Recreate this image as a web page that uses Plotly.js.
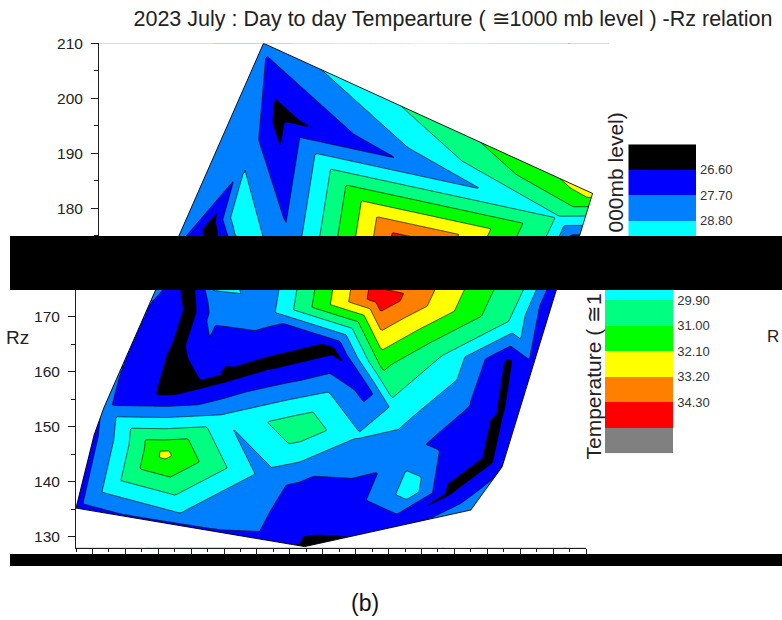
<!DOCTYPE html>
<html>
<head>
<meta charset="utf-8">
<script src="https://cdn.plot.ly/plotly-3.0.1.min.js"></script>
<style>html,body{margin:0;padding:0;background:#fff;}#chart{width:782px;height:620px;}</style>
</head>
<body>
<div id="chart"></div>
<script>
// ---------------- data (x position, Rz, temperature) ----------------
const dayX  = [11.0, 31.0, 11.9, 10.0, 28.9, 19.5, 30.05, 9.3, 7.9, 8.8,
               1.0, 2.1, 2.7, 4.2, 5.45,
               8.1, 7.3, 6.6, 8.4, 10.2, 12.8, 16.6, 8.9,
               9.3, 12.5,
               6.35, 12.5, 7.5, 11.5,
               10.0, 14.7, 16.3, 18.2,
               18.6, 19.6, 20.5, 20.7, 21.4,
               23.5, 27.6, 23.5, 24.8, 23.6, 26.2, 26.8, 27.3, 28.65, 27.55, 26.9, 25.0,
               17.5, 14.5, 20.0, 14.9];
const rzY   = [210.0, 182.7, 196.9, 189.8, 178.4, 173.5, 173.5, 178.5, 177.5, 174.0,
               135.2, 148.5, 153.5, 163.0, 172.0,
               171.0, 163.5, 156.3, 157.6, 159.0, 161.3, 164.0, 160.3,
               170.5, 170.5,
               145.0, 141.0, 132.5, 131.6,
               152.0, 150.0, 156.0, 148.5,
               157.0, 161.0, 152.5, 145.9, 138.2,
               163.0, 169.0, 147.5, 154.0, 137.8, 143.6, 152.0, 162.0, 161.5, 151.0, 142.7, 134.85,
               136.0, 138.5, 131.8, 128.2];
const tempZ = [28.0, 32.55, 26.17, 28.6, 29.8, 35.1, 26.6, 29.5, 26.25, 27.4,
               27.3, 27.4, 27.9, 27.6, 27.7,
               26.3, 26.3, 26.3, 26.3, 26.3, 26.3, 26.3, 27.3,
               28.0, 28.2,
               32.4, 28.4, 28.2, 28.0,
               28.9, 30.7, 28.9, 28.9,
               27.2, 31.2, 29.3, 28.2, 29.4,
               29.8, 29.7, 27.3, 27.8, 26.45, 26.45, 26.45, 26.45, 27.5, 27.4, 27.4, 28.6,
               27.0, 27.3, 26.75, 26.45];

const levels      = [26.6, 27.7, 28.8, 29.9, 31.0, 32.1, 33.2, 34.3, 35.4];
const levelLabels = ['26.60', '27.70', '28.80', '29.90', '31.00', '32.10', '33.20', '34.30'];
const bandColors  = ['#000000', '#0000ff', '#0080ff', '#00ffff', '#00ff80', '#00ff00', '#ffff00', '#ff8000', '#ff0000', '#808080'];

const titleText  = '2023 July : Day to day Tempearture ( \u22451000 mb level ) -Rz relation';
const cbTitleLow = 'Temperature ( \u22451';
const cbTitleHigh = '000mb level)';
const yTitle = 'Rz';
const edgeText = 'R';
const panelTag = '(b)';

// ---------------- helpers ----------------
const W = 782, H = 620;
const px = v => v / W;
const py = v => 1 - v / H;
const F = 'Liberation Sans, Arial, sans-serif';
const INK = '#1e1e1e';
const SX = 3; // aspect used for triangulation (approx. pixel aspect)

function inCirc(a, b, c, x, y) {
  const ax = a[0]-x, ay = a[1]-y, bx = b[0]-x, by = b[1]-y, cx = c[0]-x, cy = c[1]-y;
  const det = (ax*ax+ay*ay)*(bx*cy-cx*by) - (bx*bx+by*by)*(ax*cy-cx*ay) + (cx*cx+cy*cy)*(ax*by-bx*ay);
  const o = (b[0]-a[0])*(c[1]-a[1]) - (b[1]-a[1])*(c[0]-a[0]);
  return o > 0 ? det > 0 : det < 0;
}
function triangulate(xs, ys) {
  const n = xs.length;
  const P = xs.map((x, i) => [x*SX, ys[i]]);
  let x0 = Infinity, x1 = -Infinity, y0 = Infinity, y1 = -Infinity;
  P.forEach(p => { x0 = Math.min(x0, p[0]); x1 = Math.max(x1, p[0]); y0 = Math.min(y0, p[1]); y1 = Math.max(y1, p[1]); });
  const d = Math.max(x1-x0, y1-y0) * 200, cx = (x0+x1)/2, cy = (y0+y1)/2;
  P.push([cx-d, cy-d], [cx+d, cy-d], [cx, cy+d]);
  let tris = [[n, n+1, n+2]];
  for (let i = 0; i < n; i++) {
    const keep = [], edges = new Map();
    tris.forEach(t => {
      if (inCirc(P[t[0]], P[t[1]], P[t[2]], P[i][0], P[i][1])) {
        [[t[0],t[1]],[t[1],t[2]],[t[2],t[0]]].forEach(([a,b]) => {
          const k = a < b ? a+','+b : b+','+a;
          if (edges.has(k)) edges.get(k).c++; else edges.set(k, {a, b, c: 1});
        });
      } else keep.push(t);
    });
    edges.forEach(e => { if (e.c === 1) keep.push([e.a, e.b, i]); });
    tris = keep;
  }
  return tris.filter(t => t[0] < n && t[1] < n && t[2] < n);
}
function crossP(o, a, b) { return (a[0]-o[0])*(b[1]-o[1]) - (a[1]-o[1])*(b[0]-o[0]); }
function convexHull(pts) {
  const p = pts.slice().sort((a, b) => a[0]-b[0] || a[1]-b[1]);
  const lo = [], up = [];
  p.forEach(q => { while (lo.length >= 2 && crossP(lo[lo.length-2], lo[lo.length-1], q) <= 0) lo.pop(); lo.push(q); });
  for (let i = p.length-1; i >= 0; i--) { const q = p[i]; while (up.length >= 2 && crossP(up[up.length-2], up[up.length-1], q) <= 0) up.pop(); up.push(q); }
  lo.pop(); up.pop();
  return lo.concat(up);
}

// ---------------- piecewise-linear surface on the triangulation ----------------
const tris = triangulate(dayX, rzY).map(t => {
  const [a, b, c] = t;
  const x1 = dayX[a], y1 = rzY[a], x2 = dayX[b], y2 = rzY[b], x3 = dayX[c], y3 = rzY[c];
  return {a, b, c, x1, y1, x2, y2, x3, y3, det: (y2-y3)*(x1-x3) + (x3-x2)*(y1-y3)};
});
function surf(x, y) {
  let best = null, bm = -Infinity;
  for (const t of tris) {
    const l1 = ((t.y2-t.y3)*(x-t.x3) + (t.x3-t.x2)*(y-t.y3)) / t.det;
    const l2 = ((t.y3-t.y1)*(x-t.x3) + (t.x1-t.x3)*(y-t.y3)) / t.det;
    const l3 = 1 - l1 - l2;
    const m = Math.min(l1, l2, l3);
    if (m > bm) { bm = m; best = [t, l1, l2, l3]; }
    if (m >= -1e-9) break;
  }
  const [t, l1, l2, l3] = best;
  const v = l1*tempZ[t.a] + l2*tempZ[t.b] + l3*tempZ[t.c];
  return Math.max(23, Math.min(37, v));
}
const gx = [], gy = [];
for (let i = 0; i <= 248; i++) gx.push(1 + i*0.125);
for (let j = 0; j <= 328; j++) gy.push(128 + j*0.25);
const gz = gy.map(y => gx.map(x => surf(x, y)));

// hull outline and white mask outside the hull
const hull = convexHull(dayX.map((x, i) => [x, rzY[i]]));
const hullX = hull.map(p => p[0]).concat([hull[0][0]]);
const hullY = hull.map(p => p[1]).concat([hull[0][1]]);
const maskX = [], maskY = [];
for (let i = 0; i < hull.length; i++) {
  const p = hull[i], q = hull[(i+1) % hull.length];
  const ex = q[0]-p[0], ey = q[1]-p[1], len = Math.hypot(ex, ey);
  const ux = ex/len, uy = ey/len, nx = uy, ny = -ux, L = 400, D = 400;
  const a = [p[0]-L*ux, p[1]-L*uy], b = [q[0]+L*ux, q[1]+L*uy];
  maskX.push(a[0], b[0], b[0]+D*nx, a[0]+D*nx, null);
  maskY.push(a[1], b[1], b[1]+D*ny, a[1]+D*ny, null);
}

// discrete colour scales
const nb = bandColors.length;
const contourScale = [], barScale = [];
bandColors.forEach((c, j) => {
  contourScale.push([Math.max(0, (j-0.5)/(nb-1)), c], [Math.min(1, (j+0.5)/(nb-1)), c]);
  barScale.push([j/nb, c], [(j+1)/nb, c]);
});
const step = +(levels[1]-levels[0]).toFixed(3);
const bandCenters = bandColors.map((c, j) => +(levels[0] - step/2 + j*step).toFixed(3));

function surfaceTraces(xa, ya) {
  return [
    {type: 'contour', x: gx, y: gy, z: gz, xaxis: xa, yaxis: ya, autocontour: false,
     contours: {start: levels[0], end: levels[levels.length-1], size: step, coloring: 'fill', showlines: true},
     colorscale: contourScale, showscale: false, line: {color: '#000', width: 0.7, smoothing: 0}, hoverinfo: 'skip'},
    {type: 'scatter', mode: 'lines', x: maskX, y: maskY, fill: 'toself', fillcolor: '#ffffff',
     line: {width: 0, color: 'rgba(0,0,0,0)'}, xaxis: xa, yaxis: ya, hoverinfo: 'skip', showlegend: false},
    {type: 'scatter', mode: 'lines', x: hullX, y: hullY, line: {color: '#000', width: 0.9},
     xaxis: xa, yaxis: ya, hoverinfo: 'skip', showlegend: false}
  ];
}
function barTrace(xa, ya) {
  return {type: 'heatmap', x: [0], y: bandCenters, z: bandCenters.map(v => [v]), xaxis: xa, yaxis: ya,
          colorscale: barScale, zmin: levels[0]-step, zmax: levels[levels.length-1]+step, showscale: false, hoverinfo: 'skip'};
}

const traces = [].concat(surfaceTraces('x', 'y'), surfaceTraces('x2', 'y2'), [barTrace('x3', 'y3'), barTrace('x4', 'y4')]);

// ---------------- axes ----------------
const RZPX = 5.5;            // pixels per Rz unit
const CBPX = 25.5 / step;    // pixels per degree on the colour bar
const yAxisCommon = {
  showline: true, linecolor: INK, linewidth: 1, ticks: 'outside', ticklen: 7, tickwidth: 1, tickcolor: INK,
  tickmode: 'linear', tick0: 0, dtick: 10, minor: {ticks: 'outside', ticklen: 4, tickwidth: 1, tickcolor: INK, dtick: 5, tick0: 0},
  tickfont: {family: F, size: 15.5, color: '#222'}, ticklabelstandoff: 5, showgrid: false, zeroline: false, fixedrange: true
};
const cbAxis = {
  side: 'right', tickmode: 'array', tickvals: levels.slice(0, levelLabels.length), ticktext: levelLabels, ticks: '',
  showline: false, showgrid: false, zeroline: false, tickfont: {family: F, size: 13, color: '#333'}, ticklabelstandoff: 3, fixedrange: true
};
const topTop = 43.3, topMin = 171, topMax = 210;
const botBase = 536.7, botMin = 128, botMax = 178;
const cbTop = 144.3, cbBot = 453.3;

const layout = {
  width: W, height: H, margin: {l: 0, r: 0, t: 0, b: 0}, paper_bgcolor: '#fff', plot_bgcolor: 'rgba(0,0,0,0)', showlegend: false,
  title: {text: titleText, x: px(453), xanchor: 'center', y: py(18), yanchor: 'middle', font: {family: F, size: 21.5, color: '#222'}},
  xaxis: {domain: [px(99), px(609)], range: [1, 32], visible: false, fixedrange: true, anchor: 'y'},
  yaxis: Object.assign({}, yAxisCommon, {anchor: 'x', range: [topMin, topMax],
          domain: [py(topTop + (topMax-topMin)*RZPX), py(topTop)]}),
  xaxis2: {domain: [px(76), px(586)], range: [1, 32], anchor: 'y2', showline: true, linecolor: INK, linewidth: 1,
           ticks: 'outside', ticklen: 6, tickwidth: 1, tickcolor: INK, tickmode: 'linear', tick0: 2, dtick: 2,
           minor: {ticks: 'outside', ticklen: 3, tickwidth: 1, tickcolor: INK, tick0: 1, dtick: 1},
           showticklabels: false, showgrid: false, zeroline: false, fixedrange: true},
  yaxis2: Object.assign({}, yAxisCommon, {anchor: 'x2', range: [botMin, botMax],
          domain: [py(botBase + (130-botMin)*RZPX), py(botBase - (botMax-130)*RZPX)]}),
  xaxis3: {domain: [px(628.3), px(696)], range: [-0.5, 0.5], visible: false, fixedrange: true, anchor: 'y3'},
  yaxis3: Object.assign({}, cbAxis, {anchor: 'x3', range: [30.5, 25.5], domain: [py(cbTop + 5*CBPX), py(cbTop)]}),
  xaxis4: {domain: [px(605), px(673.3)], range: [-0.5, 0.5], visible: false, fixedrange: true, anchor: 'y4'},
  yaxis4: Object.assign({}, cbAxis, {anchor: 'x4', range: [36.5, 28.6], domain: [py(cbBot), py(cbBot - 7.9*CBPX)]}),
  shapes: [
    {type: 'rect', xref: 'paper', yref: 'paper', x0: px(10), x1: 1, y0: py(290), y1: py(236), fillcolor: '#000', line: {width: 0}, layer: 'above'},
    {type: 'rect', xref: 'paper', yref: 'paper', x0: px(10), x1: 1, y0: py(566), y1: py(554), fillcolor: '#000', line: {width: 0}, layer: 'above'}
  ],
  annotations: [
    {text: yTitle, xref: 'paper', yref: 'paper', x: px(31), y: py(337), xanchor: 'right', yanchor: 'middle', showarrow: false, font: {family: F, size: 19, color: '#222'}},
    {text: edgeText, xref: 'paper', yref: 'paper', x: px(781), y: py(336), xanchor: 'right', yanchor: 'middle', showarrow: false, font: {family: F, size: 17, color: '#222'}},
    {text: cbTitleLow, xref: 'paper', yref: 'paper', x: px(592.5), y: py(462), xanchor: 'center', yanchor: 'bottom', textangle: -90, showarrow: false, font: {family: F, size: 21, color: '#222'}},
    {text: cbTitleHigh, xref: 'paper', yref: 'paper', x: px(614.5), y: py(111), xanchor: 'center', yanchor: 'top', textangle: -90, showarrow: false, font: {family: F, size: 21, color: '#222'}},
    {text: panelTag, xref: 'paper', yref: 'paper', x: px(364.5), y: py(603), xanchor: 'center', yanchor: 'middle', showarrow: false, font: {family: F, size: 23, color: '#111'}}
  ]
};

Plotly.newPlot('chart', traces, layout, {staticPlot: true, displayModeBar: false});
</script>
</body>
</html>
